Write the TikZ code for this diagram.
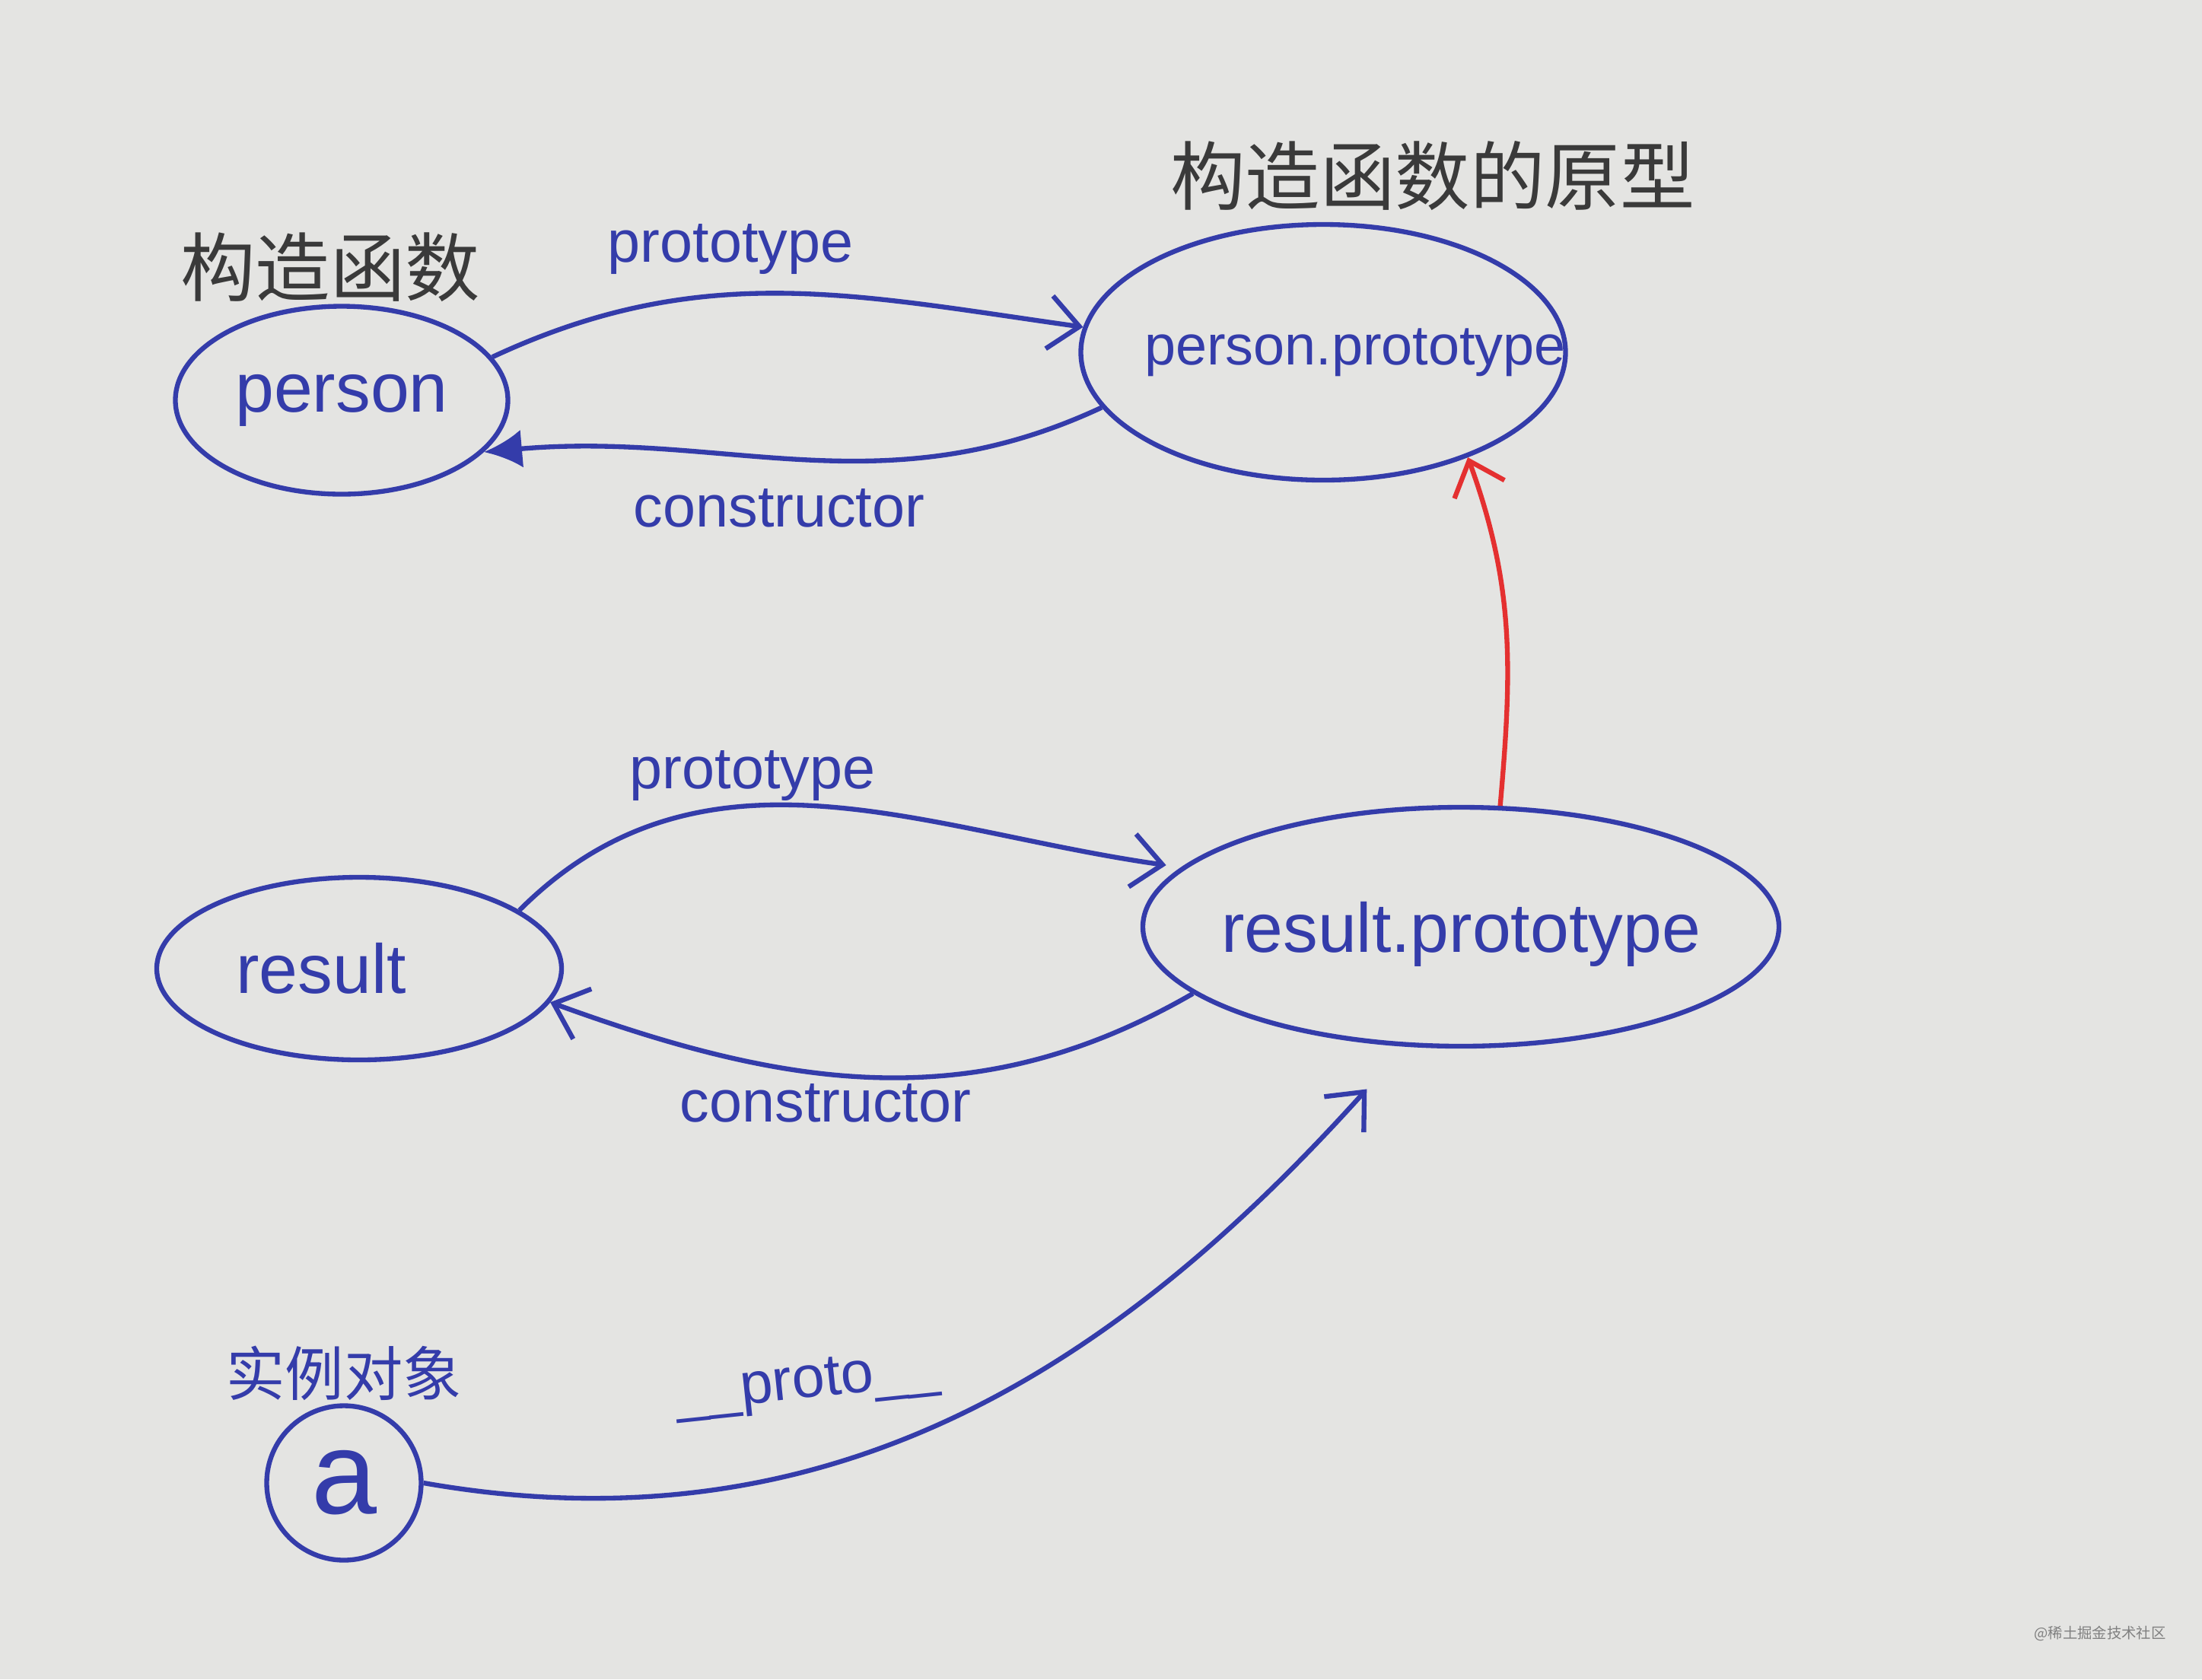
\documentclass[tikz,border=0pt]{standalone}
\usepackage{fontspec}
\setmainfont{Liberation Sans}
\newfontfamily\cjk{Noto Sans CJK SC}
\usepackage{xcolor}
\usepackage{tikz}
\usetikzlibrary{shapes.geometric,arrows.meta,positioning,calc}

\definecolor{ink}{RGB}{52,60,170}
\definecolor{pencil}{RGB}{58,58,58}
\definecolor{redink}{RGB}{228,48,48}
\definecolor{paper}{RGB}{228,228,226}

\begin{document}
\begin{tikzpicture}[
  oval/.style={ellipse, draw=ink, line width=1.8pt, inner sep=0pt},
  ovaltext/.style={text=ink, font=\fontsize{26}{30}\selectfont},
  link/.style={-{Straight Barb[length=4mm,width=7mm]}, draw=ink, line width=1.8pt},
  lbl/.style={text=ink, font=\fontsize{22}{26}\selectfont},
  cn/.style={text=pencil, font=\cjk\fontsize{28}{32}\selectfont}
]
  \fill[paper] (0,0) rectangle (28.94,-22.07);

  % the four objects and the instance
  \node[oval, minimum width=4.37cm, minimum height=2.47cm, label={[ovaltext]center:person}] (person) at (4.49,-5.26) {};
  \node[oval, minimum width=6.37cm, minimum height=3.36cm, label={[ovaltext, font=\fontsize{21}{25}\selectfont, xshift=0.42cm]center:person.prototype}] (pp) at (17.39,-4.63) {};
  \node[oval, minimum width=5.32cm, minimum height=2.40cm, label={[ovaltext, xshift=-0.5cm]center:result}] (result) at (4.72,-12.73) {};
  \node[oval, minimum width=8.36cm, minimum height=3.14cm, label={[ovaltext, yshift=-0.1cm]center:result.prototype}] (rp) at (19.20,-12.18) {};
  \node[circle, draw=ink, line width=1.8pt, minimum size=2.03cm, inner sep=0pt, text=ink, font=\fontsize{44}{48}\selectfont] (a) at (4.52,-19.49) {a};

  % headings
  \node[cn] (ctor) at (4.34,-3.51) {构造函数};
  \node[cn] (proto) at (18.83,-2.31) {构造函数的原型};
  \node[cn, text=ink, font=\cjk\fontsize{22}{26}\selectfont] (inst) at (4.52,-18.05) {实例对象};

  % prototype / constructor pairs
  \draw[link] (person.16) to[out=25, in=172] (pp.174);
  \draw[link, -{Latex[length=5mm,width=5mm]}] (pp.194) to[out=205, in=5] (person.-20);
  \draw[link, shorten >=0.2cm] (result.20) to[out=45, in=172] (rp.168);
  \draw[link] (rp.194) to[out=210, in=-20] (result.-10);
  \draw[link, draw=redink] (rp.72) to[out=85, in=-70] (pp.-36);
  \draw[link, shorten >=0.75cm] (a.east) to[out=-10, in=-132] (rp.-115);

  \node[lbl] (l1) at (9.60,-3.28) {prototype};
  \node[lbl] (l2) at (10.24,-6.68) {constructor};
  \node[lbl] (l3) at (9.89,-10.20) {prototype};
  \node[lbl] (l4) at (10.85,-14.50) {constructor};
  \node[lbl, rotate=6] (l5) at (10.61,-18.20) {\_\_proto\_\_};

  \node[text=gray, font=\cjk\fontsize{5.5}{6}\selectfont] (mark) at (27.60,-21.47) {@稀土掘金技术社区};
\end{tikzpicture}
\end{document}
